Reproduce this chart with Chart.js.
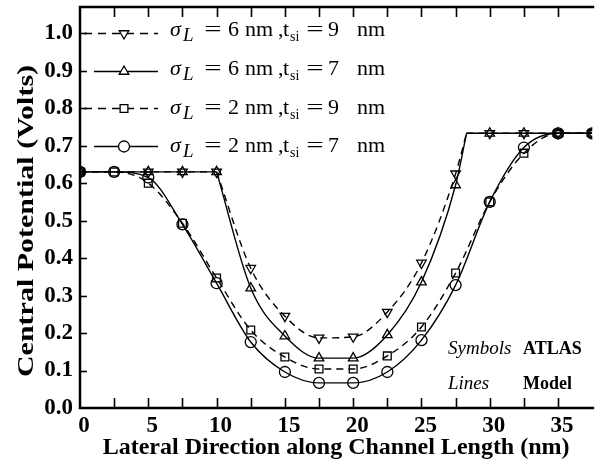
<!DOCTYPE html>
<html>
<head>
<meta charset="utf-8">
<script src="https://cdn.jsdelivr.net/npm/chart.js@4"></script>
<style>
  html, body { margin: 0; padding: 0; background: #fff; }
  canvas { display: block; }
</style>
</head>
<body>
<canvas id="potChart" width="599" height="465"></canvas>
<script>
// lateral position along the channel (nm)
const xVals = [0, 2.5, 5, 7.5, 10, 12.5, 15, 17.5, 20, 22.5, 25, 27.5, 30, 32.5, 35, 37.5];
// central potential (V) for each device
const s6t9 = [0.63, 0.63, 0.63, 0.63, 0.63, 0.373, 0.245, 0.187, 0.19, 0.256, 0.387, 0.625, 0.733, 0.733, 0.733, 0.733];
const s6t7 = [0.63, 0.63, 0.63, 0.63, 0.63, 0.32, 0.192, 0.133, 0.133, 0.195, 0.336, 0.595, 0.733, 0.733, 0.733, 0.733];
const s2t9 = [0.63, 0.63, 0.60, 0.493, 0.347, 0.208, 0.136, 0.104, 0.104, 0.139, 0.216, 0.36, 0.55, 0.68, 0.733, 0.733];
const s2t7 = [0.63, 0.63, 0.615, 0.49, 0.333, 0.176, 0.096, 0.067, 0.067, 0.096, 0.181, 0.328, 0.55, 0.695, 0.733, 0.733];
// the sigma = 6 nm curves jump up to the drain level here
const kneeX = 28.3;
const kneeY = 0.733;

const xTicks = [0, 5, 10, 15, 20, 25, 30, 35];
const yTicks = [0, 0.1, 0.2, 0.3, 0.4, 0.5, 0.6, 0.7, 0.8, 0.9, 1.0];

const SERIF = '"Liberation Serif", "Times New Roman", serif';
const DASH = [7, 5];

function pts(xs, ys, from, to) {
  const out = [];
  for (let i = from; i <= to; i++) out.push({ x: xs[i], y: ys[i] });
  return out;
}

function lineSet(data, dashed, mono) {
  return {
    type: 'line',
    data: data,
    borderColor: '#000',
    borderWidth: 1.4,
    borderDash: dashed ? DASH : [],
    pointRadius: 0,
    fill: false,
    cubicInterpolationMode: mono ? 'monotone' : 'default',
    tension: 0
  };
}

function symbolSet(ys, style, rot, skip) {
  return {
    type: 'scatter',
    data: pts(xVals, ys, 0, xVals.length - 1),
    showLine: false,
    borderColor: '#000',
    backgroundColor: 'rgba(0,0,0,0)',
    borderWidth: 1.3,
    pointStyle: style,
    rotation: rot,
    pointRadius: xVals.map((x, i) => skip.includes(i) ? 0 : 5.5)
  };
}

// model lines: sigma 6 nm curves have sharp corners at x=10 and at the knee
function sharpCurve(ys, dashed) {
  const dip = pts(xVals, ys, 4, 11).concat([{ x: kneeX, y: kneeY }]);
  const right = [{ x: kneeX, y: kneeY }].concat(pts(xVals, ys, 12, 15));
  return [
    lineSet(pts(xVals, ys, 0, 4), dashed, false),
    lineSet(dip, dashed, true),
    lineSet(right, dashed, false)
  ];
}

const datasets = []
  .concat(sharpCurve(s6t9, true))
  .concat(sharpCurve(s6t7, false))
  .concat([lineSet(pts(xVals, s2t9, 0, 15), true, true)])
  .concat([lineSet(pts(xVals, s2t7, 0, 15), false, true)])
  .concat([
    symbolSet(s6t9, 'triangle', 180, [1]),
    symbolSet(s6t7, 'triangle', 0, [1]),
    symbolSet(s2t9, 'rect', 0, []),
    symbolSet(s2t7, 'circle', 0, [])
  ]);

const legendRows = [
  { sigma: '6', tsi: '9', dashed: true, style: 'triangle', rot: 180, base: 36 },
  { sigma: '6', tsi: '7', dashed: false, style: 'triangle', rot: 0, base: 75 },
  { sigma: '2', tsi: '9', dashed: true, style: 'rect', rot: 0, base: 114 },
  { sigma: '2', tsi: '7', dashed: false, style: 'circle', rot: 0, base: 152 }
];

function drawLabel(ctx, base, sigma, tsi) {
  ctx.fillStyle = '#000';
  ctx.textBaseline = 'alphabetic';
  ctx.textAlign = 'left';
  ctx.font = 'italic 22px ' + SERIF;
  ctx.fillText('σ', 170, base);
  ctx.font = 'italic 19px ' + SERIF;
  ctx.fillText('L', 183, base + 5);
  ctx.font = '22px ' + SERIF;
  ctx.fillText(sigma, 228, base);
  ctx.fillText('nm', 245, base);
  ctx.fillText(',', 278, base);
  ctx.fillText('t', 283, base);
  ctx.fillText(tsi, 328, base);
  ctx.fillText('nm', 357, base);
  ctx.font = '14px ' + SERIF;
  ctx.fillText('si', 290, base + 5);
  // wide equals signs
  ctx.font = '22px ' + SERIF;
  ctx.textAlign = 'center';
  [213, 315].forEach(cx => {
    ctx.save();
    ctx.translate(cx, base);
    ctx.scale(1.4, 1);
    ctx.fillText('=', 0, 0);
    ctx.restore();
  });
  ctx.textAlign = 'left';
}

const frameAndTicks = {
  id: 'frameAndTicks',
  afterDatasetsDraw(chart) {
    const { ctx, chartArea: a, scales: { x, y } } = chart;
    ctx.save();
    ctx.strokeStyle = '#000';
    // inward tick marks every 2.5 nm, top and bottom
    ctx.lineWidth = 1.6;
    for (let v = 2.5; v < 37.5; v += 2.5) {
      const px = Math.round(x.getPixelForValue(v)) + 0.5;
      ctx.beginPath();
      ctx.moveTo(px, a.bottom); ctx.lineTo(px, a.bottom - 10);
      ctx.moveTo(px, a.top); ctx.lineTo(px, a.top + 10);
      ctx.stroke();
    }
    yTicks.forEach(v => {
      if (v === 0) return;
      const py = Math.round(y.getPixelForValue(v)) + 0.5;
      ctx.beginPath();
      ctx.moveTo(a.left, py); ctx.lineTo(a.left + 7, py);
      ctx.stroke();
    });
    // frame: left, bottom, top (right edge is outside the picture)
    ctx.lineWidth = 2.5;
    ctx.beginPath();
    ctx.moveTo(a.right + 2, a.top);
    ctx.lineTo(a.left, a.top);
    ctx.lineTo(a.left, a.bottom);
    ctx.lineTo(a.right + 2, a.bottom);
    ctx.stroke();

    // legend
    legendRows.forEach((r, i) => {
      const ly = Math.round(y.getPixelForValue(1.0 - i * 0.1)) + 0.5;
      ctx.lineWidth = 1.4;
      ctx.setLineDash(r.dashed ? [8, 6] : []);
      ctx.beginPath();
      ctx.moveTo(r.dashed ? 84 : 94, ly);
      ctx.lineTo(158, ly);
      ctx.stroke();
      ctx.setLineDash([]);
      ctx.lineWidth = 1.3;
      ctx.fillStyle = '#fff';
      Chart.helpers.drawPoint(ctx, { pointStyle: r.style, radius: 5.5, rotation: r.rot, borderWidth: 1.3 }, 124, ly);
      drawLabel(ctx, r.base, r.sigma, r.tsi);
    });

    // annotation
    ctx.fillStyle = '#000';
    ctx.textBaseline = 'alphabetic';
    ctx.font = 'italic 19px ' + SERIF;
    ctx.fillText('Symbols', 448, 354);
    ctx.fillText('Lines', 448, 389);
    ctx.font = 'bold 18px ' + SERIF;
    ctx.fillText('ATLAS', 523, 354);
    ctx.fillText('Model', 523, 389);

    // y axis title, stretched along its length like the original
    ctx.save();
    ctx.translate(33, 221);
    ctx.rotate(-Math.PI / 2);
    ctx.scale(1.25, 1);
    ctx.font = 'bold 24px ' + SERIF;
    ctx.textAlign = 'center';
    ctx.fillText('Central Potential (Volts)', 0, 0);
    ctx.restore();
    ctx.restore();
  }
};

new Chart(document.getElementById('potChart'), {
  data: { datasets: datasets },
  options: {
    responsive: false,
    animation: false,
    layout: { padding: { top: 7, right: 0, left: 0, bottom: 0 } },
    plugins: { legend: { display: false }, tooltip: { enabled: false } },
    scales: {
      x: {
        type: 'linear',
        min: 0,
        max: 37.5,
        afterFit: s => { s.height = 57; s.paddingLeft = 0; s.paddingRight = 0; },
        afterBuildTicks: s => { s.ticks = xTicks.map(v => ({ value: v })); },
        grid: { display: false },
        border: { display: false },
        ticks: {
          color: '#000',
          padding: -4,
          labelOffset: 4,
          maxRotation: 0,
          font: { family: SERIF, size: 23, weight: 'bold' }
        },
        title: {
          display: true,
          text: 'Lateral Direction along Channel Length (nm)',
          color: '#000',
          padding: { top: 0, bottom: 3 },
          font: { family: SERIF, size: 24, weight: 'bold' }
        }
      },
      y: {
        type: 'linear',
        min: 0,
        max: 1.07,
        afterFit: s => { s.width = 80; s.paddingTop = 0; s.paddingBottom = 0; },
        afterBuildTicks: s => { s.ticks = yTicks.map(v => ({ value: v })); },
        grid: { display: false },
        border: { display: false },
        ticks: {
          color: '#000',
          padding: -1,
          callback: v => v.toFixed(1),
          font: { family: SERIF, size: 23, weight: 'bold' }
        }
      }
    }
  },
  plugins: [frameAndTicks]
});
</script>
</body>
</html>
